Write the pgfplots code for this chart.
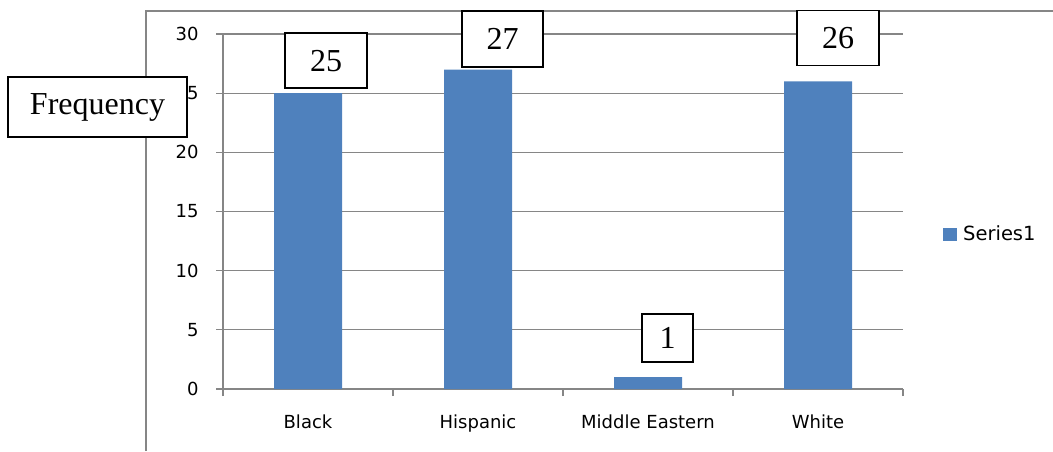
\documentclass[border=0pt]{standalone}
\usepackage{fontspec}
\setmainfont{Liberation Serif}
\newfontfamily\chartsans{DejaVu Sans}
\usepackage{pgfplots}
\pgfplotsset{compat=1.18}
\definecolor{barblue}{RGB}{79,129,189}
\definecolor{gridgray}{RGB}{134,134,134}
\tikzset{valbox/.style={draw=black, line width=1.8pt, fill=white, inner sep=0pt,
  font=\fontsize{32}{36}\selectfont}}
\begin{document}
\begin{tikzpicture}
\useasboundingbox (0pt,0pt) rectangle (1053pt,451pt);
% chart frame
\draw[gridgray, line width=1.8pt] (146pt,0pt) -- (146pt,440pt) -- (1053pt,440pt);
\begin{axis}[
  at={(223pt,62pt)}, anchor=south west,
  scale only axis, width=680pt, height=355pt,
  xmin=-0.5, xmax=3.5, ymin=0, ymax=30,
  axis x line=bottom, axis y line=left,
  axis line style={draw=gridgray, line width=1.3pt, -},
  ytick={0,5,...,30},
  xtick={-0.5,0.5,1.5,2.5,3.5},
  xticklabels={,,,,},
  extra x ticks={0,1,2,3},
  extra x tick labels={Black,Hispanic,Middle Eastern,White},
  extra x tick style={major tick length=0pt, xticklabel style={yshift=-22pt}},
  tick align=outside,
  major tick length=7pt,
  tick style={draw=gridgray, line width=1.3pt},
  ymajorgrids,
  grid style={draw=gridgray, line width=1.1pt},
  tick label style={font=\chartsans\fontsize{18}{20}\selectfont},
  /pgf/number format/assume math mode=true,
  yticklabel style={xshift=-14pt},
  ybar, bar width=68pt,
  legend style={at={(1.0588,0.4366)}, anchor=west, draw=none, fill=none,
    inner sep=0pt, font=\chartsans\fontsize{19.5}{22}\selectfont,
    nodes={inner xsep=6pt}},
  legend image code/.code={\fill[#1] (0pt,-6.5pt) rectangle (14pt,6.5pt);},
]
\addplot[fill=barblue, draw=none] coordinates {(0,25) (1,27) (2,1) (3,26)};
\addlegendentry{Series1}
\coordinate (v0) at (axis cs:0,25);
\coordinate (v1) at (axis cs:1,27);
\coordinate (v2) at (axis cs:2,1);
\coordinate (v3) at (axis cs:3,26);
\end{axis}
% value labels
\node[valbox, minimum width=82pt, minimum height=55pt, anchor=south, xshift=18pt, yshift=4pt] at (v0) {25};
\node[valbox, minimum width=81pt, minimum height=56pt, anchor=south, xshift=24.5pt, yshift=1.5pt] at (v1) {27};
\node[valbox, minimum width=51pt, minimum height=48pt, anchor=south, xshift=19.5pt, yshift=14pt] at (v2) {1};
\node[valbox, minimum width=82pt, minimum height=55pt, anchor=south, xshift=20pt, yshift=15pt] at (v3) {26};
% axis title box
\node[valbox, minimum width=179pt, minimum height=60pt] at (97.5pt,344pt) {Frequency};
\end{tikzpicture}
\end{document}
